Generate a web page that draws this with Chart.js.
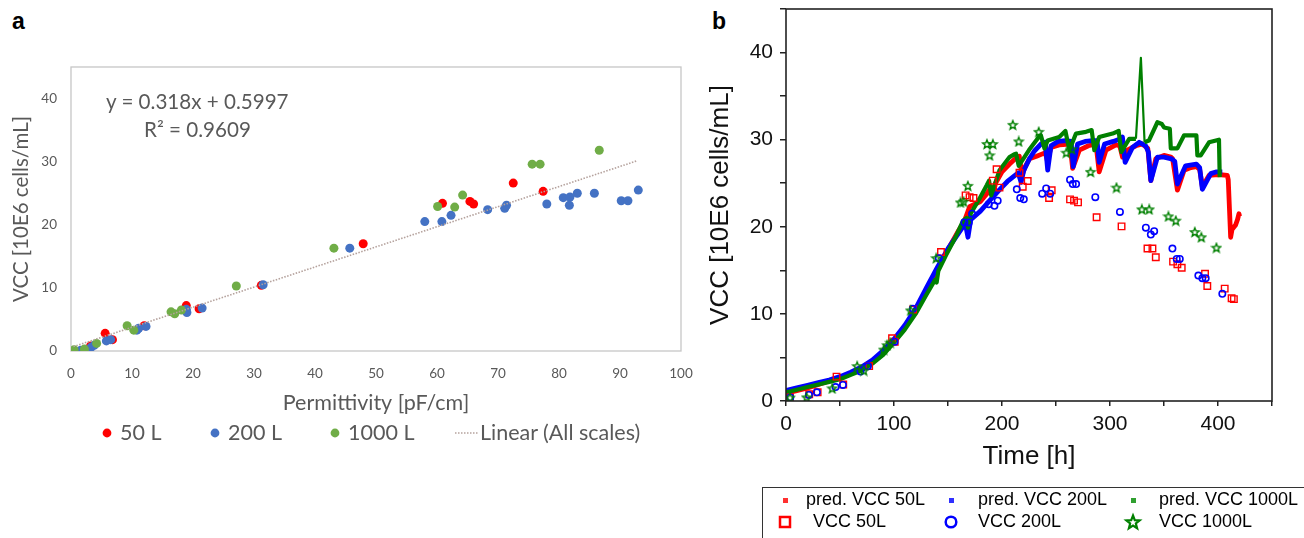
<!DOCTYPE html>
<html><head><meta charset="utf-8">
<script src="https://cdn.jsdelivr.net/npm/chart.js@4.4.1/dist/chart.umd.min.js"></script>
<style>
html,body{margin:0;padding:0;background:#fff}
body{width:1304px;height:538px;position:relative;overflow:hidden;font-family:"Liberation Sans",Arial,sans-serif}
#wa{position:absolute;left:0;top:0;width:700px;height:420px}
#wb{position:absolute;left:700px;top:0;width:604px;height:480px}
.t{position:absolute;white-space:nowrap;line-height:1.2}
.pl{font-family:Lato,"Noto Sans",sans-serif;color:#595959}
.bl{font-family:"Liberation Sans",Arial,sans-serif;color:#000;font-size:18px}
#legb{position:absolute;left:762px;top:487px;width:600px;height:70px;border:1.5px solid #333;box-sizing:border-box}
svg{position:absolute;overflow:visible}
</style></head><body>
<div class="t" style="left:12px;top:8px;font-weight:bold;font-size:23px;font-family:'Liberation Sans',Arial,sans-serif">a</div>
<div class="t" style="left:712px;top:8px;font-weight:bold;font-size:23px;font-family:'Liberation Sans',Arial,sans-serif">b</div>
<div id="wa"><canvas id="ca"></canvas></div>
<div id="wb"><canvas id="cb"></canvas></div>
<div class="t pl" style="left:106px;top:89px;font-size:20.6px">y = 0.318x + 0.5997</div>
<div class="t pl" style="left:144px;top:117px;font-size:20.6px">R² = 0.9609</div>

<!-- legend panel a -->
<svg style="left:0;top:0" width="1" height="1">
  <circle cx="107" cy="433" r="4.4" fill="#ff0000"/>
  <circle cx="215" cy="433" r="4.4" fill="#4472c4"/>
  <circle cx="335" cy="433" r="4.4" fill="#70ad47"/>
  <line x1="455" y1="433" x2="478" y2="433" stroke="#b5a29d" stroke-width="1.6" stroke-dasharray="1.5,1.5"/>
</svg>
<div class="t pl" style="left:120px;top:420px;font-size:21.5px">50 L</div>
<div class="t pl" style="left:228px;top:420px;font-size:21.5px">200 L</div>
<div class="t pl" style="left:348px;top:420px;font-size:21.5px">1000 L</div>
<div class="t pl" style="left:480px;top:420px;font-size:21.5px">Linear (All scales)</div>

<!-- legend panel b -->
<div id="legb"></div>
<svg style="left:0;top:0" width="1" height="1">
  <rect x="783" y="498" width="5" height="5" fill="#ff3030"/>
  <rect x="949" y="498" width="5" height="5" fill="#3030ff"/>
  <rect x="1131" y="498" width="5" height="5" fill="#30a030"/>
  <rect x="780" y="517" width="10" height="10" fill="none" stroke="#ff0000" stroke-width="2.5"/>
  <circle cx="951" cy="522" r="5.3" fill="none" stroke="#0000ff" stroke-width="2.5"/>
  <polygon id="lstar" fill="none" stroke="#008000" stroke-width="2.2" stroke-linejoin="miter" points=""/>
</svg>
<div class="t bl" style="left:806px;top:489px">pred. VCC 50L</div>
<div class="t bl" style="left:978px;top:489px">pred. VCC 200L</div>
<div class="t bl" style="left:1159px;top:489px">pred. VCC 1000L</div>
<div class="t bl" style="left:813px;top:511px">VCC 50L</div>
<div class="t bl" style="left:978px;top:511px">VCC 200L</div>
<div class="t bl" style="left:1159px;top:511px">VCC 1000L</div>

<script>
// ---------------- Panel a data ----------------
const a_xTicks = [0,10,20,30,40,50,60,70,80,90,100];
const a_yTicks = [0,10,20,30,40];
const a_red50 = [[3.2,0.8],[5.6,2.8],[6.8,1.8],[12.0,4.0],[18.9,7.2],[21.0,6.7],[31.2,10.4],[47.9,17.0],[60.9,23.4],[65.4,23.7],[66.0,23.3],[72.5,26.6],[77.4,25.3]];
const a_blue200 = [[1.6,0.1],[3.3,0.6],[3.8,0.9],[5.8,1.6],[6.5,1.8],[10.8,3.3],[11.1,3.6],[12.3,3.9],[19.0,6.1],[18.9,6.6],[21.5,6.8],[31.5,10.5],[45.7,16.3],[58.0,20.5],[60.8,20.5],[62.3,21.5],[68.3,22.4],[71.1,22.6],[71.4,23.1],[78.0,23.3],[80.7,24.3],[81.8,24.4],[81.7,23.1],[83.0,25.0],[85.8,25.0],[90.2,23.8],[91.3,23.8],[93.0,25.5]];
const a_green1000 = [[0.5,0.2],[2.2,0.3],[4.2,1.2],[9.2,4.0],[10.3,3.3],[16.4,6.2],[17.0,5.9],[18.1,6.5],[27.1,10.3],[43.1,16.3],[60.1,22.9],[62.9,22.8],[64.2,24.7],[75.6,29.6],[76.9,29.6],[86.6,31.8]];
const a_trend = [[0.4,0.7],[92.7,30.1]];

// ---------------- Panel b data ----------------
const b_predRed = [[0,0.9],[10,1.2],[20,1.5],[30,1.9],[40,2.3],[50,2.7],[60,3.2],[70,3.7],[80,4.5],[90,5.6],[100,6.9],[110,8.5],[120,10.3],[130,12.5],[140,15.0],[150,17.4],[160,19.6],[165,20.6],[170,22.3],[180,22.9],[186,23.8],[190,24.6],[192,23.8],[194,25.0],[200,26.3],[207,27.2],[213,27.9],[216,28.1],[218.6,25.9],[221,26.8],[225.4,27.8],[232,28.1],[238,28.4],[240,28.5],[242,27.6],[245.4,29.1],[253,29.4],[263,29.5],[265.4,26.7],[271.6,28.8],[280,29.3],[287,29.5],[290,26.3],[296.3,28.8],[305.5,29.4],[309,29.3],[311.6,28.0],[316,28.8],[324,29.3],[330,29.5],[335,29.0],[337.8,25.3],[342.4,27.8],[350,28.2],[356.3,28.0],[358,27.8],[362.4,24.2],[368.6,26.5],[375,26.8],[380,26.9],[383,26.6],[385.5,24.6],[391.7,25.9],[400,26.0],[408.6,25.9],[409.5,25.4],[411.7,18.8],[413,19.7],[416.3,20.2],[418,20.8],[419.4,21.5],[420,21.2]];
const b_predBlue = [[0,1.2],[10,1.5],[20,1.8],[30,2.1],[40,2.4],[50,2.8],[60,3.3],[70,3.9],[80,4.7],[90,5.8],[100,7.1],[110,8.7],[120,10.6],[130,13.0],[140,15.3],[150,17.5],[160,19.3],[166,20.4],[168.5,18.8],[171,20.8],[180,21.8],[190,23.2],[198,24.3],[205,25.2],[210,25.7],[215,26.2],[217.7,25.1],[220,26.4],[225.4,27.8],[230,28.7],[236,29.5],[240,29.7],[242.3,26.5],[245.4,29.3],[252,29.8],[259,29.9],[264,29.8],[266,26.9],[270,29.5],[277,29.8],[284,29.9],[288,29.9],[290,27.4],[295,29.5],[303,29.8],[310,30.1],[311.5,30.3],[314,27.4],[320.8,29.1],[327,29.7],[333,29.3],[335.5,28.6],[337.8,25.3],[343.9,28.0],[350,28.0],[357,27.8],[360,27.5],[362.4,24.9],[370,27.0],[380,27.2],[383,26.8],[385.5,24.3],[393.3,26.1],[398,26.3],[404,26.3]];
const b_predGreen = [[0,1.0],[10,1.3],[20,1.6],[30,1.9],[40,2.2],[50,2.5],[60,3.0],[70,3.5],[80,4.3],[90,5.3],[100,6.7],[110,8.2],[120,10.0],[130,12.2],[138,13.9],[139.5,13.6],[141,14.9],[148,16.7],[157,18.8],[164,20.7],[167,21.0],[168.5,19.9],[171,21.5],[179,23.2],[186,24.8],[188,25.3],[190,23.6],[197.7,26.5],[207,28.0],[211,28.3],[213,28.4],[215.5,27.0],[225,28.8],[234.6,30.4],[236,30.5],[239.3,29.0],[242.3,29.9],[253,30.3],[258.7,31.0],[262.4,28.8],[268.5,30.7],[277.8,30.9],[283,31.1],[285.5,28.8],[290,30.3],[302.4,30.7],[308,31.0],[310.5,28.6],[317.8,30.1],[324,30.1],[328.6,39.4],[332,29.7],[336,29.9],[343.9,32.0],[348,31.8],[350,31.4],[355.4,31.25],[356.3,29.0],[362.4,29.0],[368.6,30.5],[380,30.5],[380.9,28.2],[384,28.2],[391.7,29.7],[400.9,30.0],[401.6,25.7]];
const b_vccRed = [[3.7,0.42],[21.5,0.77],[29.3,1.0],[46.8,2.8],[53,1.9],[77,4.0],[98.2,7.2],[100.7,6.8],[117.6,10.5],[143.5,17.1],[166.3,23.6],[170,23.4],[173.6,23.3],[191.5,25.3],[195,26.6],[197.7,24.5],[216.2,26.2],[219.2,24.6],[223.8,25.25],[243.6,23.3],[246,24.2],[263,23.15],[266.7,23.0],[270.4,22.8],[287.6,21.1],[310.7,20.05],[334.7,17.5],[339.3,17.5],[342.4,16.5],[358.4,16.0],[362.4,15.7],[366.4,15.3],[388,14.6],[390.1,13.2],[406.2,12.9],[412.6,11.8],[414.7,11.7]];
const b_vccBlue = [[4,0.4],[21.2,0.7],[28.6,1.0],[45.9,1.6],[52.7,1.85],[69,3.4],[75.8,4.0],[100.5,6.8],[117.5,10.6],[141.5,16.4],[165.2,20.5],[169.2,20.5],[172.3,21.5],[187.7,22.6],[193,22.4],[196,23.0],[213.7,24.3],[216.9,23.3],[220.2,23.15],[237.2,23.8],[240.9,24.4],[244.6,23.8],[263,25.4],[265.5,24.9],[268.6,24.9],[286.4,23.4],[309.2,21.7],[333.2,19.9],[337.8,19.1],[340.9,19.5],[357.8,17.5],[361.8,16.3],[364.6,16.3],[381.8,14.4],[385.5,14.1],[388.6,14.1],[404,12.3]];
const b_vccGreen = [[3.7,0.4],[19.1,0.42],[42.8,1.45],[65.9,4.0],[72,3.5],[90.5,5.9],[93.6,6.4],[96.6,6.7],[115.4,10.4],[139.1,16.4],[161.6,22.8],[164.4,22.9],[168.4,24.7],[186,29.5],[188.5,28.2],[191.5,29.5],[210,31.7],[215.5,29.8],[234,30.9],[259.5,28.5],[264.5,28.9],[282,26.3],[306,24.5],[329.5,22.0],[336.3,22.0],[354.1,21.2],[360.9,20.7],[378.5,19.4],[384.6,18.8],[398.5,17.6]];

const pts = arr => arr.map(p => ({x:p[0], y:p[1]}));

function starPoints(cx, cy, ro, ri){
  const out=[];
  for(let i=0;i<10;i++){
    const r = i%2===0 ? ro : ri;
    const ang = -Math.PI/2 + i*Math.PI/5;
    out.push([cx + r*Math.cos(ang), cy + r*Math.sin(ang)]);
  }
  return out;
}
document.getElementById('lstar').setAttribute('points', starPoints(1133,522.5,7,3).map(p=>p.join(',')).join(' '));

const starImg = document.createElement('canvas');
starImg.width = 12; starImg.height = 12;
(function(){
  const c = starImg.getContext('2d');
  c.strokeStyle = '#008000'; c.lineWidth = 1.4; c.lineJoin='miter';
  c.beginPath();
  starPoints(6,6.4,4.6,2.0).forEach((p,i)=> i? c.lineTo(p[0],p[1]) : c.moveTo(p[0],p[1]));
  c.closePath(); c.stroke();
})();

const frame = {
  id:'frame',
  beforeDatasetsDraw(chart, args, o){
    if(!o || o.front) return;
    const {ctx, chartArea:a} = chart;
    ctx.save(); ctx.strokeStyle=o.color; ctx.lineWidth=o.width;
    ctx.strokeRect(a.left, a.top, a.right-a.left, a.bottom-a.top);
    ctx.restore();
  },
  afterDraw(chart, args, o){
    if(!o || !o.front) return;
    const {ctx, chartArea:a} = chart;
    ctx.save(); ctx.strokeStyle=o.color; ctx.lineWidth=o.width;
    ctx.strokeRect(a.left, a.top, a.right-a.left, a.bottom-a.top);
    ctx.restore();
  }
};
const noPad = s => { s.paddingTop = 0; s.paddingBottom = 0; s.paddingLeft = 0; s.paddingRight = 0; };

// ---------------- Panel a chart ----------------
const grayTxt = '#595959';
new Chart(document.getElementById('ca'), {
  type:'scatter',
  data:{datasets:[
    {label:'Linear (All scales)', type:'line', data:pts(a_trend), borderColor:'#b5a29d', borderWidth:1.6, borderDash:[1.5,1.5], pointRadius:0, fill:false, order:0},
    {label:'1000 L', data:pts(a_green1000), backgroundColor:'#70ad47', borderWidth:0, pointRadius:4.5, order:1},
    {label:'200 L', data:pts(a_blue200), backgroundColor:'#4472c4', borderWidth:0, pointRadius:4.5, order:2},
    {label:'50 L', data:pts(a_red50), backgroundColor:'#ff0000', borderWidth:0, pointRadius:4.5, order:3}
  ]},
  options:{
    responsive:true, maintainAspectRatio:false, animation:false,
    layout:{padding:{left:0, top:67, right:19, bottom:0}},
    plugins:{legend:{display:false}, tooltip:{enabled:false}, frame:{color:'#c6c6c6', width:1.3, front:false}},
    scales:{
      x:{type:'linear', min:0, max:100,
        afterBuildTicks: s => { s.ticks = a_xTicks.map(v=>({value:v})); },
        afterFit: s => { s.height = 69; noPad(s); },
        grid:{display:false, drawTicks:false}, border:{display:false},
        ticks:{padding:15, color:grayTxt, font:{family:'Lato', size:13.5}, maxRotation:0},
        title:{display:true, text:'Permittivity [pF/cm]', color:grayTxt, font:{family:'Lato', size:21.5}, padding:{top:0,bottom:4}}
      },
      y:{type:'linear', min:0, max:45,
        afterBuildTicks: s => { s.ticks = a_yTicks.map(v=>({value:v})); },
        afterFit: s => { s.width = 71; noPad(s); },
        grid:{display:false, drawTicks:false}, border:{display:false},
        ticks:{padding:14, color:grayTxt, font:{family:'Lato', size:13.5}},
        title:{display:true, text:'VCC [10E6 cells/mL]', color:grayTxt, font:{family:'Lato', size:20.5}, padding:{top:9.5,bottom:0}}
      }
    }
  },
  plugins:[frame]
});

// ---------------- Panel b chart ----------------
const thinSteep = ctx => Math.abs(ctx.p1.parsed.y - ctx.p0.parsed.y) > 5 ? 2.2 : undefined;
new Chart(document.getElementById('cb'), {
  type:'scatter',
  data:{datasets:[
    {label:'VCC 1000L', data:pts(b_vccGreen), pointStyle:starImg, pointRadius:5, order:1},
    {label:'VCC 200L', data:pts(b_vccBlue), pointStyle:'circle', pointRadius:3.2, borderColor:'#0000ff', backgroundColor:'rgba(0,0,0,0)', borderWidth:1.6, order:2},
    {label:'VCC 50L', data:pts(b_vccRed), pointStyle:'rect', pointRadius:4.6, borderColor:'#ff0000', backgroundColor:'rgba(0,0,0,0)', borderWidth:1.4, order:3},
    {label:'pred. VCC 1000L', type:'line', data:pts(b_predGreen), borderColor:'#008000', borderWidth:4.2, borderJoinStyle:'round', pointRadius:0, tension:0, fill:false, segment:{borderWidth:thinSteep}, order:4},
    {label:'pred. VCC 200L', type:'line', data:pts(b_predBlue), borderColor:'#0000ff', borderWidth:4.8, borderJoinStyle:'round', pointRadius:0, tension:0, fill:false, order:5},
    {label:'pred. VCC 50L', type:'line', data:pts(b_predRed), borderColor:'#ff0000', borderWidth:4.8, borderJoinStyle:'round', pointRadius:0, tension:0, fill:false, order:6}
  ]},
  options:{
    responsive:true, maintainAspectRatio:false, animation:false,
    layout:{padding:{left:0, top:9, right:32, bottom:0}},
    plugins:{legend:{display:false}, tooltip:{enabled:false}, frame:{color:'#222', width:1.6, front:true}},
    scales:{
      x:{type:'linear', min:0, max:450,
        ticks:{stepSize:50, autoSkip:false, maxRotation:0, padding:6, color:'#111', font:{family:'Liberation Sans', size:21},
          callback: v => (v % 100 === 0 ? String(v) : '')},
        afterFit: s => { s.height = 79; noPad(s); },
        grid:{display:true, drawOnChartArea:false, drawTicks:true, tickLength:5, color:'#222', lineWidth:1.5}, border:{display:false},
        title:{display:true, text:'Time [h]', color:'#111', font:{family:'Liberation Sans', size:26}, padding:{top:0,bottom:7.4}}
      },
      y:{type:'linear', min:0, max:45,
        ticks:{stepSize:5, autoSkip:false, padding:7, color:'#111', font:{family:'Liberation Sans', size:21},
          callback: v => (v % 10 === 0 ? String(v) : '')},
        afterFit: s => { s.width = 86; noPad(s); },
        grid:{display:true, drawOnChartArea:false, drawTicks:true, tickLength:6, color:'#222', lineWidth:1.5}, border:{display:false},
        title:{display:true, text:'VCC [10E6 cells/mL]', color:'#111', font:{family:'Liberation Sans', size:26}, padding:{top:5.4,bottom:0}}
      }
    }
  },
  plugins:[frame]
});
</script>
</body></html>
